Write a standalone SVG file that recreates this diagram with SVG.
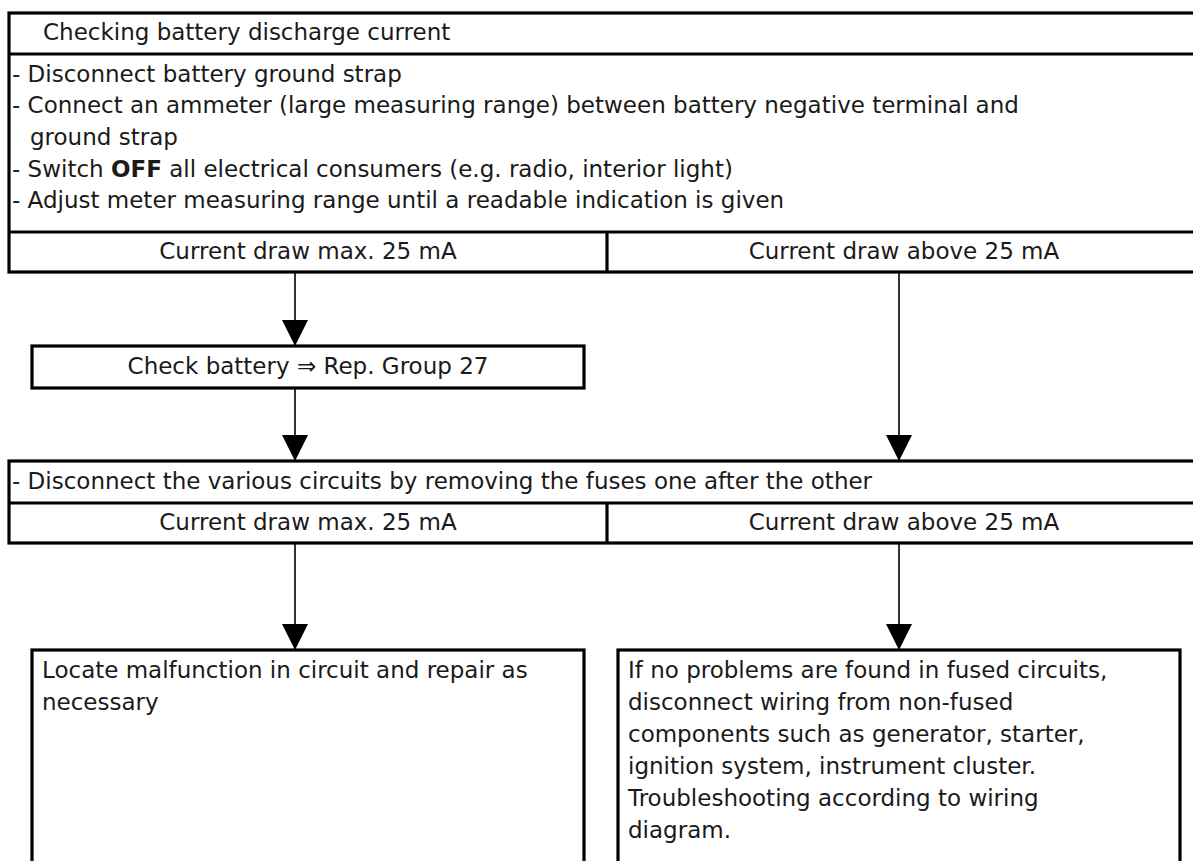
<svg xmlns="http://www.w3.org/2000/svg" width="1193" height="861" viewBox="0 0 1193 861">
<defs>
<style>
.box{fill:#fff;stroke:#000;stroke-width:3.2}
.sep{stroke:#000;stroke-width:3.2;fill:none}
.con{stroke:#000;stroke-width:1.6;fill:none}
text{font-family:"DejaVu Sans","Liberation Sans",sans-serif;font-size:23px;fill:#1a1a1a}
.c{text-anchor:middle}
.b{font-weight:bold}
</style>
<marker id="ah" markerUnits="userSpaceOnUse" markerWidth="26" markerHeight="26" viewBox="0 0 24 24" refX="24" refY="12" orient="auto">
<path d="M0,0 L24,12 L0,24 Z" fill="#000"/>
</marker>
</defs>
<rect width="1193" height="861" fill="#fff"/>
<g id="connectors">
<path class="con" d="M295,273 V346" marker-end="url(#ah)"/>
<path class="con" d="M295,389 V461" marker-end="url(#ah)"/>
<path class="con" d="M899,273 V461" marker-end="url(#ah)"/>
<path class="con" d="M295,544 V650" marker-end="url(#ah)"/>
<path class="con" d="M899,544 V650" marker-end="url(#ah)"/>
</g>
<g id="node-check-discharge">
<rect class="box" x="9" y="13" width="1200" height="259"/>
<path class="sep" d="M9,54 H1200 M9,232 H1200 M607,232 V272"/>
<text x="43" y="40">Checking battery discharge current</text>
<text x="12" y="82">- Disconnect battery ground strap</text>
<text x="12" y="113">- Connect an ammeter (large measuring range) between battery negative terminal and</text>
<text x="30" y="145">ground strap</text>
<text x="12" y="177">- Switch <tspan class="b">OFF</tspan> all electrical consumers (e.g. radio, interior light)</text>
<text x="12" y="208">- Adjust meter measuring range until a readable indication is given</text>
<text class="c" x="308" y="259">Current draw max. 25 mA</text>
<text class="c" x="904" y="259">Current draw above 25 mA</text>
</g>
<g id="node-check-battery">
<rect class="box" x="32" y="346" width="552" height="42"/>
<text class="c" x="308" y="374">Check battery ⇒ Rep. Group 27</text>
</g>
<g id="node-disconnect-circuits">
<rect class="box" x="9" y="461" width="1200" height="82"/>
<path class="sep" d="M9,503 H1200 M607,503 V543"/>
<text x="12" y="489">- Disconnect the various circuits by removing the fuses one after the other</text>
<text class="c" x="308" y="530">Current draw max. 25 mA</text>
<text class="c" x="904" y="530">Current draw above 25 mA</text>
</g>
<g id="node-locate-malfunction">
<rect class="box" x="32" y="650" width="552" height="260"/>
<text x="42" y="678">Locate malfunction in circuit and repair as</text>
<text x="42" y="710">necessary</text>
</g>
<g id="node-non-fused">
<rect class="box" x="618" y="650" width="562" height="260"/>
<text x="628" y="678">If no problems are found in fused circuits,</text>
<text x="628" y="710">disconnect wiring from non-fused</text>
<text x="628" y="742">components such as generator, starter,</text>
<text x="628" y="774">ignition system, instrument cluster.</text>
<text x="628" y="806">Troubleshooting according to wiring</text>
<text x="628" y="838">diagram.</text>
</g>
</svg>
